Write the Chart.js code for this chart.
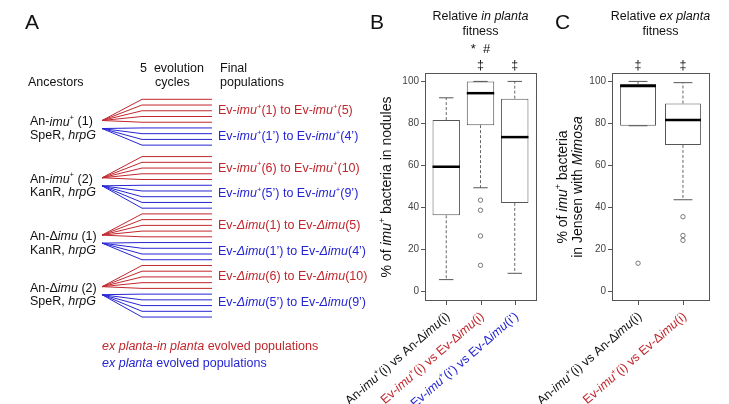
<!DOCTYPE html>
<html>
<head>
<meta charset="utf-8">
<script src="https://cdn.jsdelivr.net/npm/chart.js@4/dist/chart.umd.min.js"></script>
<style>
  html, body { margin: 0; padding: 0; background: #fff; }
  #wrap { position: relative; width: 729px; height: 404px; overflow: hidden; }
  #wrap canvas { position: absolute; left: 0; top: 0; }
</style>
</head>
<body>
<div id="wrap">
  <canvas id="panelA" width="729" height="404"></canvas>
  <canvas id="panelB" width="729" height="404"></canvas>
  <canvas id="panelC" width="729" height="404"></canvas>
</div>
<script>
// ---- data ----
// panel A: scheme of the evolution experiment
const ancestorNames = ['An-_imu_^+^ (1)', 'An-_imu_^+^ (2)', 'An-Δ_imu_ (1)', 'An-Δ_imu_ (2)'];
const ancestorMarkers = ['SpeR, _hrpG_', 'KanR, _hrpG_', 'KanR, _hrpG_', 'SpeR, _hrpG_'];
const redCounts = [5, 5, 5, 5];
const blueCounts = [4, 5, 4, 5];
const redLabels = ['Ev-_imu_^+^(1) to Ev-_imu_^+^(5)', 'Ev-_imu_^+^(6) to Ev-_imu_^+^(10)',
                   'Ev-_Δimu_(1) to Ev-_Δimu_(5)', 'Ev-_Δimu_(6) to Ev-_Δimu_(10)'];
const blueLabels = ['Ev-_imu_^+^(1’) to Ev-_imu_^+^(4’)', 'Ev-_imu_^+^(5’) to Ev-_imu_^+^(9’)',
                    'Ev-_Δimu_(1’) to Ev-_Δimu_(4’)', 'Ev-_Δimu_(5’) to Ev-_Δimu_(9’)'];

// panel B: relative in planta fitness (% imu+ in nodules)
const catsB = ['An-_imu_^+^(i) vs An-Δ_imu_(i)', 'Ev-_imu_^+^(i) vs Ev-Δ_imu_(i)', 'Ev-_imu_^+^(i’) vs Ev-Δ_imu_(i’)'];
const lowB = [5.7, 49.4, 8.7];
const q1B = [36.3, 79.2, 42.2];
const medB = [59.4, 94.4, 73.5];
const q3B = [81.6, 100, 91.8];
const highB = [92.2, 100, 100];
const outB = [[], [43.5, 38.7, 26.5, 12.5], []];
const signB = ['', '‡', '‡'];
const starB = ['', '*  #', ''];

// panel C: relative ex planta fitness (% imu+ in Jensen with Mimosa)
const catsC = ['An-_imu_^+^(i) vs An-Δ_imu_(i)', 'Ev-_imu_^+^(i) vs Ev-Δ_imu_(i)'];
const lowC = [78.9, 43.7];
const q1C = [78.9, 69.8];
const medC = [97.8, 81.6];
const q3C = [98.8, 89.5];
const highC = [100, 99.4];
const outC = [[13.5], [35.6, 26.7, 24.4]];
const signC = ['‡', '‡'];

const yTicks = [0, 20, 40, 60, 80, 100];

// ---- styles ----
const FONT = '"Liberation Sans", Arial, Helvetica, sans-serif';
const RED = '#c1272d';
const BLUE = '#2525d4';
const INK = '#111';
const colorsB = [INK, RED, BLUE];
const colorsC = [INK, RED];

// tiny markup: _italic_  ^superscript^
function richParts(s) {
  const parts = [];
  const re = /_([^_]+)_|\^([^^]+)\^|([^_^]+)/g;
  let m;
  while ((m = re.exec(s))) {
    if (m[1]) parts.push({ t: m[1], it: true });
    else if (m[2]) parts.push({ t: m[2], sup: true });
    else parts.push({ t: m[3] });
  }
  return parts;
}
function fontFor(p, size) {
  const sz = p.sup ? size * 0.62 : size;
  return (p.it ? 'italic ' : '') + sz + 'px ' + FONT;
}
function drawRich(ctx, s, x, y, size, color, align) {
  const parts = richParts(s);
  let w = 0;
  parts.forEach(p => { ctx.font = fontFor(p, size); p.w = ctx.measureText(p.t).width; w += p.w; });
  let cx = align === 'right' ? x - w : align === 'center' ? x - w / 2 : x;
  ctx.fillStyle = color;
  ctx.textAlign = 'left';
  ctx.textBaseline = 'middle';
  parts.forEach(p => {
    ctx.font = fontFor(p, size);
    ctx.fillText(p.t, cx, p.sup ? y - size * 0.32 : y);
    cx += p.w;
  });
}
function drawRotated(ctx, s, x, y, angle, size, color, align) {
  ctx.save();
  ctx.translate(x, y);
  ctx.rotate(angle);
  drawRich(ctx, s, 0, 0, size, color, align);
  ctx.restore();
}

// ---- panel A ----
const gapBefore = [0, 1, 0, 0];   // empty slots before each ancestor group
const stageX = [0, 1, 2.75];      // ancestor, branch point, final population
const redPts = [], bluePts = [], groups = [];
let slot = 0;
redCounts.forEach((rc, g) => {
  slot += gapBefore[g];
  const rApex = slot + rc - 1 - 0.3;
  for (let k = 0; k < rc; k++) {
    redPts.push({ x: stageX[0], y: rApex }, { x: stageX[1], y: slot + k }, { x: stageX[2], y: slot + k }, { x: 0, y: null });
  }
  const bs = slot + rc;
  const bApex = bs + 0.1;
  for (let k = 0; k < blueCounts[g]; k++) {
    bluePts.push({ x: stageX[0], y: bApex }, { x: stageX[1], y: bs + k }, { x: stageX[2], y: bs + k }, { x: 0, y: null });
  }
  groups.push({ redMid: slot + (rc - 1) / 2, bApex: bApex });
  slot = bs + blueCounts[g];
});

const textA = {
  id: 'textA',
  afterDraw(chart) {
    const ctx = chart.ctx, sx = chart.scales.x, sy = chart.scales.y;
    const slotPx = Math.abs(sy.getPixelForValue(1) - sy.getPixelForValue(0));
    ctx.save();
    ctx.font = '21px ' + FONT; ctx.fillStyle = INK; ctx.textBaseline = 'middle';
    ctx.fillText('A', 25, 23);
    drawRich(ctx, 'Ancestors', 28, 83, 12.5, INK, 'left');
    drawRich(ctx, '5  evolution', 140, 69, 12.5, INK, 'left');
    drawRich(ctx, 'cycles', 155, 83, 12.5, INK, 'left');
    drawRich(ctx, 'Final', 220, 69, 12.5, INK, 'left');
    drawRich(ctx, 'populations', 220, 83, 12.5, INK, 'left');
    const labX = sx.getPixelForValue(stageX[2]) + 6;
    groups.forEach((gr, g) => {
      const ry = sy.getPixelForValue(gr.redMid);
      drawRich(ctx, redLabels[g], labX, ry, 12.5, RED, 'left');
      drawRich(ctx, blueLabels[g], labX, ry + 4.5 * slotPx, 12.5, BLUE, 'left');
      const ay = sy.getPixelForValue(gr.bApex);
      drawRich(ctx, ancestorNames[g], 30, ay - 6.5, 12.5, INK, 'left');
      drawRich(ctx, ancestorMarkers[g], 30, ay + 7, 12.5, INK, 'left');
    });
    const lx = sx.getPixelForValue(stageX[0]);
    drawRich(ctx, '_ex planta-in planta_ evolved populations', lx, 347, 12.5, RED, 'left');
    drawRich(ctx, '_ex planta_ evolved populations', lx, 364, 12.5, BLUE, 'left');
    ctx.restore();
  }
};

new Chart(document.getElementById('panelA'), {
  type: 'scatter',
  data: {
    datasets: [
      { data: redPts, showLine: true, borderColor: RED, borderWidth: 1, pointRadius: 0, spanGaps: false },
      { data: bluePts, showLine: true, borderColor: BLUE, borderWidth: 1, pointRadius: 0, spanGaps: false }
    ]
  },
  options: {
    responsive: false, animation: false, events: [],
    layout: { padding: 0 },
    plugins: { legend: { display: false }, tooltip: { enabled: false } },
    scales: {
      x: { type: 'linear', display: false, min: -2.55, max: -2.55 + 729 / 40 },
      y: { type: 'linear', display: false, reverse: true, min: -99.3 / 5.73, max: -99.3 / 5.73 + 404 / 5.73 }
    }
  },
  plugins: [textA]
});

// ---- panels B and C: box plots ----
function boxPlot(id, s) {
  const xs = s.med.map((_, i) => i + 1);
  const boxes = xs.map((x, i) => ({ x: x, y: [s.q1[i], s.q3[i]] }));
  const meds = xs.map((x, i) => ({ x: x, y: s.med[i] }));
  const whisk = [];
  xs.forEach((x, i) => {
    whisk.push({ x: x, y: s.q3[i] }, { x: x, y: s.high[i] }, { x: x, y: null },
               { x: x, y: s.q1[i] }, { x: x, y: s.low[i] }, { x: x, y: null });
  });
  const caps = xs.flatMap((x, i) => [{ x: x, y: s.high[i] }, { x: x, y: s.low[i] }]);
  const outs = xs.flatMap((x, i) => s.out[i].map(v => ({ x: x, y: v })));
  const halfUnits = u => c => {
    const sc = c.chart.scales.x;
    return Math.abs(sc.getPixelForValue(u) - sc.getPixelForValue(0));
  };

  const decor = {
    id: 'decor' + id,
    afterDraw(chart) {
      const ctx = chart.ctx, a = chart.chartArea, sx = chart.scales.x;
      ctx.save();
      ctx.strokeStyle = '#555'; ctx.lineWidth = 1;
      ctx.strokeRect(Math.round(a.left) + 0.5, Math.round(a.top) + 0.5, Math.round(a.right - a.left), Math.round(a.bottom - a.top));
      // x tick marks
      xs.forEach(x => {
        const px = Math.round(sx.getPixelForValue(x)) + 0.5;
        ctx.beginPath(); ctx.moveTo(px, a.bottom); ctx.lineTo(px, a.bottom + 5); ctx.stroke();
      });
      ctx.font = '21px ' + FONT; ctx.fillStyle = INK; ctx.textBaseline = 'middle'; ctx.textAlign = 'left';
      ctx.fillText(s.letter, s.letterX, 23);
      const mid = (a.left + a.right) / 2;
      drawRich(ctx, s.title, mid, 17, 12.5, INK, 'center');
      drawRich(ctx, 'fitness', mid, 32, 12.5, INK, 'center');
      xs.forEach((x, i) => {
        const px = sx.getPixelForValue(x);
        if (s.sign[i]) drawRich(ctx, s.sign[i], px, 66, 12.5, INK, 'center');
        if (s.star && s.star[i]) drawRich(ctx, s.star[i], px, 49, 13, INK, 'center');
        drawRotated(ctx, s.cats[i], px + 2, 315, -41 * Math.PI / 180, 12.5, s.colors[i], 'right');
      });
      s.yTitle.forEach((t, k) => drawRotated(ctx, t, s.yTitleX[k], 187, -Math.PI / 2, 14, INK, 'center'));
      ctx.restore();
    }
  };

  new Chart(document.getElementById(id), {
    type: 'bar',
    data: {
      datasets: [
        { type: 'scatter', data: meds, pointStyle: 'line', pointRadius: halfUnits(0.4), pointBorderColor: '#000', pointBorderWidth: 2.5, order: 0 },
        { type: 'scatter', data: caps, pointStyle: 'line', pointRadius: halfUnits(0.21), pointBorderColor: '#555', pointBorderWidth: 1, order: 1 },
        { type: 'scatter', data: outs, pointStyle: 'circle', pointRadius: 2.2, pointBorderColor: '#777', pointBackgroundColor: 'rgba(0,0,0,0)', pointBorderWidth: 1, order: 1 },
        { type: 'line', data: whisk, borderColor: '#666', borderWidth: 1, borderDash: [3, 2], pointRadius: 0, spanGaps: false, order: 2 },
        { type: 'bar', data: boxes, backgroundColor: '#fff', borderColor: '#555', borderWidth: 1, borderSkipped: false,
          barPercentage: 0.8, categoryPercentage: 1, order: 3 }
      ]
    },
    options: {
      responsive: false, animation: false, events: [],
      layout: { padding: { left: s.padLeft, right: s.padRight, top: 73, bottom: 0 } },
      plugins: { legend: { display: false }, tooltip: { enabled: false } },
      scales: {
        x: {
          type: 'linear', min: s.xMin, max: s.xMax, offset: false,
          grid: { display: false, offset: false }, border: { display: false },
          ticks: { display: false, stepSize: 1, includeBounds: false },
          afterFit: sc => { sc.height = 104; }
        },
        y: {
          type: 'linear', min: -4, max: 104,
          afterBuildTicks: sc => { sc.ticks = yTicks.map(v => ({ value: v })); },
          grid: { display: true, drawOnChartArea: false, drawTicks: true, tickLength: 4, tickColor: '#555' },
          border: { display: false },
          ticks: { color: '#444', padding: 2, font: { size: 10, family: FONT } },
          afterFit: sc => { sc.width = 85; }
        }
      }
    },
    plugins: [decor]
  });
}

boxPlot('panelB', {
  cats: catsB, colors: colorsB, low: lowB, q1: q1B, med: medB, q3: q3B, high: highB, out: outB,
  sign: signB, star: starB, title: 'Relative _in planta_', letter: 'B', letterX: 370,
  yTitle: ['% of _imu_^+^ bacteria in nodules'], yTitleX: [387],
  xMin: 0.38, xMax: 3.62, padLeft: 340, padRight: 193
});
boxPlot('panelC', {
  cats: catsC, colors: colorsC, low: lowC, q1: q1C, med: medC, q3: q3C, high: highC, out: outC,
  sign: signC, title: 'Relative _ex planta_', letter: 'C', letterX: 555,
  yTitle: ['% of _imu_^+^ bacteria', 'in Jensen with _Mimosa_'], yTitleX: [563, 578],
  xMin: 0.42, xMax: 2.58, padLeft: 527, padRight: 20
});
</script>
</body>
</html>
